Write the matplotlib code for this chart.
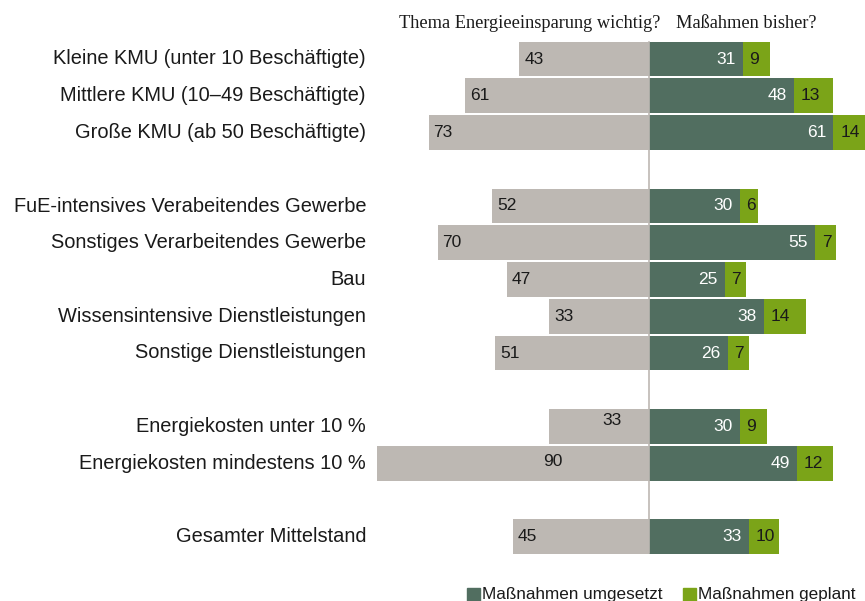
import matplotlib
matplotlib.use("Agg")
import matplotlib.pyplot as plt
from matplotlib.patches import Rectangle

categories = [
    "Kleine KMU (unter 10 Beschäftigte)",
    "Mittlere KMU (10–49 Beschäftigte)",
    "Große KMU (ab 50 Beschäftigte)",
    "FuE-intensives Verabeitendes Gewerbe",
    "Sonstiges Verarbeitendes Gewerbe",
    "Bau",
    "Wissensintensive Dienstleistungen",
    "Sonstige Dienstleistungen",
    "Energiekosten unter 10 %",
    "Energiekosten mindestens 10 %",
    "Gesamter Mittelstand",
]
wichtig = [43, 61, 73, 52, 70, 47, 33, 51, 33, 90, 45]
umgesetzt = [31, 48, 61, 30, 55, 25, 38, 26, 30, 49, 33]
geplant = [9, 13, 14, 6, 7, 7, 14, 7, 9, 12, 10]
header_left = "Thema Energieeinsparung wichtig?"
header_right = "Maßahmen bisher?"
legend_labels = ["Maßnahmen umgesetzt", "Maßnahmen geplant"]

# layout (style, not data)
row_pos = [0, 1, 2, 4, 5, 6, 7, 8, 10, 11, 13]
GREY = "#BDB8B3"
DARK = "#516E60"
LIGHT = "#7BA418"

W, H = 865, 601
fig = plt.figure(figsize=(W / 100, H / 100), dpi=100)
ax = fig.add_axes([0, 0, 1, 1])
pxu = 3.02          # px per percent
cx = 649            # centre line px
rowpx = 36.75
y0px = 59
ax.set_xlim(-cx / pxu, (W - cx) / pxu)
ax.set_ylim((H - y0px) / rowpx, -y0px / rowpx)
ax.axis("off")

sans = ["Liberation Sans", "DejaVu Sans"]
bh = 0.95
ax.barh(row_pos, [-v for v in wichtig], height=bh, color=GREY, zorder=2)
ax.barh(row_pos, umgesetzt, height=bh, color=DARK, zorder=2)
ax.barh(row_pos, geplant, left=umgesetzt, height=bh, color=LIGHT, zorder=2)

# centre line
ax.plot([0, 0], [(42 - y0px) / rowpx, (553 - y0px) / rowpx], color="#BDB8B3", lw=1.2, zorder=3)

fs_val = 12.5
off = 5 / pxu
for i, (y, w, u, g, lab) in enumerate(zip(row_pos, wichtig, umgesetzt, geplant, categories)):
    ax.text(-cx / pxu + 366 / pxu, y, lab, ha="right", va="center", fontsize=14.4,
            family=sans, color="#1a1a1a")
    if i == 8:
        ax.text(-(cx - 612) / pxu, y - 0.15, str(w), ha="center", va="center",
                fontsize=fs_val, family=sans, color="#1a1a1a", zorder=4)
    elif i == 9:
        ax.text(-(cx - 553) / pxu, y - 0.05, str(w), ha="center", va="center",
                fontsize=fs_val, family=sans, color="#1a1a1a", zorder=4)
    else:
        ax.text(-w + off, y, str(w), ha="left", va="center", fontsize=fs_val,
                family=sans, color="#1a1a1a", zorder=4)
    ax.text(u - 7 / pxu, y, str(u), ha="right", va="center", fontsize=fs_val,
            family=sans, color="white", zorder=4)
    ax.text(u + 7 / pxu, y, str(g), ha="left", va="center", fontsize=fs_val,
            family=sans, color="#1a1a1a", zorder=4)

serif = ["Liberation Serif", "DejaVu Serif"]
fig.text(660 / W, 1 - 24 / H, header_left, ha="right", va="center", fontsize=13.2,
         family=serif, color="#1a1a1a")
fig.text(676 / W, 1 - 24 / H, header_right, ha="left", va="center", fontsize=13.2,
         family=serif, color="#1a1a1a")

# legend
for xs, col, lab in [(467, DARK, legend_labels[0]), (683, LIGHT, legend_labels[1])]:
    fig.patches.append(Rectangle((xs / W, 0), 13 / W, 13 / H, transform=fig.transFigure,
                                 color=col, figure=fig))
    fig.text((xs + 15) / W, 1 - 595 / H, lab, ha="left", va="center", fontsize=12.3,
             family=sans, color="#1a1a1a")

fig.savefig("out.png", dpi=100)
